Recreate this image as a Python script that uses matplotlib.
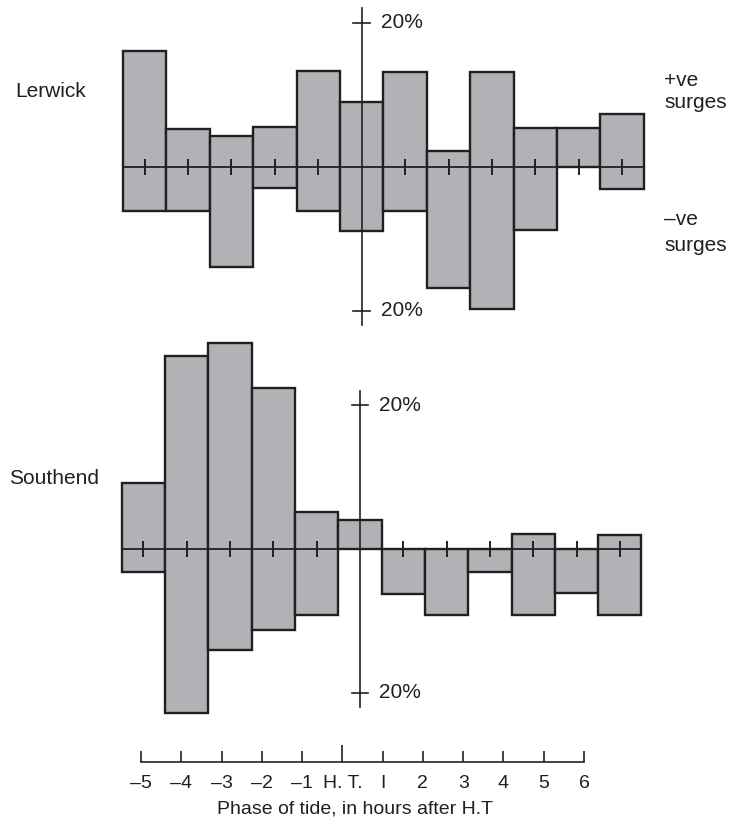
import numpy as np
import matplotlib
matplotlib.use("Agg")
import matplotlib.pyplot as plt

plt.rcParams['font.family'] = ['Liberation Sans', 'DejaVu Sans']
plt.rcParams['font.size'] = 15

# hours relative to high tide, one bar per hour
hours = np.arange(-5, 7)

# percentage of surges in each hour (positive above, negative below the line)
lerwick_pos = [16.0, 5.3, 4.3, 5.5, 13.3, 9.0, 13.2, 2.2, 13.2, 5.4, 5.4, 7.3]
lerwick_neg = [6.2, 6.2, 14.0, 3.0, 6.2, 8.9, 6.2, 16.8, 19.8, 8.8, 0.0, 3.1]
southend_pos = [9.1, 26.8, 28.6, 22.3, 5.1, 4.0, 0.0, 0.0, 0.0, 2.1, 0.0, 2.0]
southend_neg = [3.2, 22.8, 14.0, 11.2, 9.1, 0.0, 6.2, 9.2, 3.2, 9.2, 6.1, 9.2]

phase_labels = ['–5', '–4', '–3', '–2', '–1', 'H. T.', 'I', '2', '3', '4', '5', '6']

FILL = '#b1b2b6'
INK = '#231f20'

fig = plt.figure(figsize=(7.31, 8.34), dpi=100)


def panel(ax, pos, neg):
    pos = np.array(pos)
    neg = np.array(neg)
    ax.bar(hours, pos + neg, bottom=-neg, width=1.0, color=FILL,
           edgecolor=INK, linewidth=1.7, zorder=2)
    # zero line with hour ticks
    ax.plot([hours[0] - 0.5, hours[-1] + 0.5], [0, 0], color=INK, lw=1.3, zorder=3)
    ax.plot(hours[hours != 0], np.zeros(len(hours) - 1), ls='none', marker='|',
            markersize=11.5, mew=1.4, color=INK, zorder=3)
    # vertical scale through high tide
    ax.plot([0, 0], [-22, 22], color=INK, lw=1.2, zorder=4)
    for y in (20, -20):
        ax.plot([-0.19, 0.19], [y, y], color=INK, lw=1.2, zorder=4)
        ax.text(0.45, y, '20%', ha='left', va='center', color=INK)
    ax.axis('off')


ax1 = fig.add_axes([0, 504 / 834, 1, 330 / 834])
ax1.set_xlim(-8.334, 8.509)
ax1.set_ylim(-22.68, 23.15)
panel(ax1, lerwick_pos, lerwick_neg)
ax1.text(-7.99, 10.4, 'Lerwick', ha='left', va='center', color=INK)
ax1.text(6.97, 12.0, '+ve', ha='left', va='center', color=INK)
ax1.text(6.97, 8.85, 'surges', ha='left', va='center', color=INK)
ax1.text(6.97, -7.4, '–ve', ha='left', va='center', color=INK)
ax1.text(6.97, -10.9, 'surges', ha='left', va='center', color=INK)

ax2 = fig.add_axes([0, 104 / 834, 1, 400 / 834])
ax2.set_xlim(-8.314, 8.568)
ax2.set_ylim(-25.14, 30.42)
panel(ax2, southend_pos, southend_neg)
ax2.text(-8.11, 9.86, 'Southend', ha='left', va='center', color=INK)

# separate phase axis along the bottom
ax3 = fig.add_axes([141 / 731, 72 / 834, 443 / 731, 0.01])
ax3.set_xlim(-5, 6)
for s in ('left', 'right', 'top'):
    ax3.spines[s].set_visible(False)
ax3.spines['bottom'].set_color(INK)
ax3.spines['bottom'].set_linewidth(1.2)
ax3.set_yticks([])
ax3.set_xticks(hours)
ax3.set_xticklabels(phase_labels)
ax3.tick_params(axis='x', direction='in', length=8, width=1.2, color=INK,
                pad=9, labelcolor=INK, labelsize=14)
ax3.xaxis.get_major_ticks()[5].tick1line.set_markersize(12)
ax3.patch.set_visible(False)

fig.text(355 / 731, 1 - 809 / 834, 'Phase of tide, in hours after H.T',
         ha='center', va='center', color=INK, fontsize=14)

fig.savefig('out.png', dpi=100)
